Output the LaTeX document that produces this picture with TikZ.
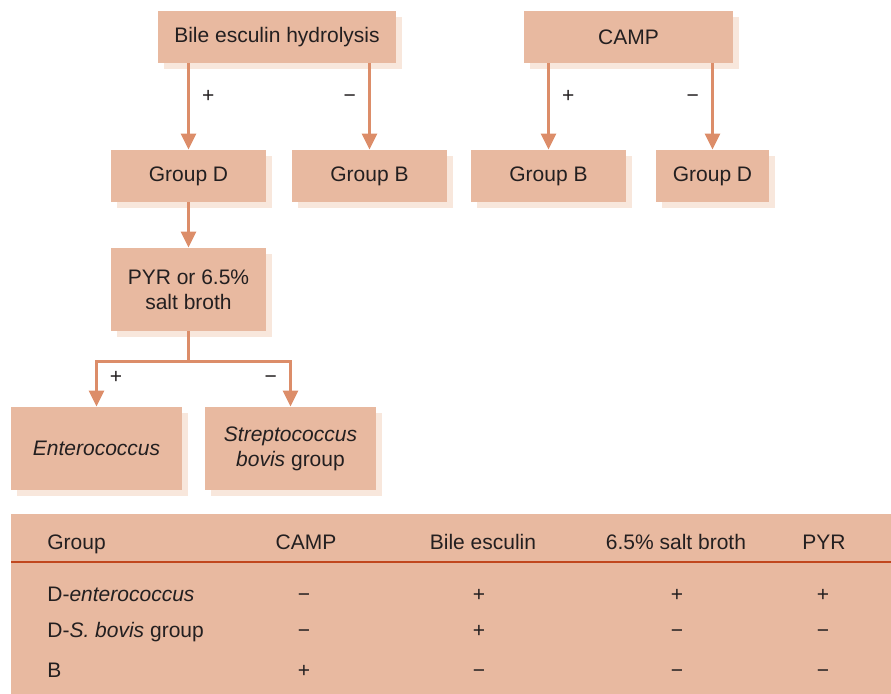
\documentclass[tikz,border=0pt]{standalone}
\usepackage{fontspec}
\setmainfont{Liberation Sans}
\usetikzlibrary{arrows.meta,shadows}
\definecolor{boxfill}{HTML}{E8B9A0}
\definecolor{boxshade}{HTML}{F8E7DC}
\definecolor{arrowc}{HTML}{DC8D69}
\definecolor{rulec}{HTML}{C1471E}
\definecolor{inkc}{HTML}{231F20}
\begin{document}
\begin{tikzpicture}[x=0.5pt,y=-0.5pt,
  font=\fontsize{10.5}{12.6}\selectfont, text=inkc,
  test/.style={fill=boxfill,minimum height=26pt,align=center,
    general shadow={fill=boxshade,shadow xshift=3pt,shadow yshift=-3pt}},
  line/.style={draw=arrowc,line width=1.5pt},
  arr/.style={line,-{Triangle[length=8pt,width=7.5pt]}},
  sign/.style={inner sep=6pt,text height=0.62em,text depth=0pt},
  cell/.style={inner sep=0pt}]
\useasboundingbox (0,0) rectangle (891,694);
% tests
\node[test,minimum width=119pt] (bile) at (277,37) {Bile esculin hydrolysis};
\node[test,minimum width=104.5pt] (camp) at (628.5,37) {CAMP};
\node[test,minimum width=77.5pt] (grpD) at (188.5,176) {Group D};
\node[test,minimum width=77.5pt] (grpB) at (369.5,176) {Group B};
\node[test,minimum width=77.5pt] (campB) at (548.5,176) {Group B};
\node[test,minimum width=56.5pt] (campD) at (712.5,176) {Group D};
\node[test,minimum width=77.5pt,minimum height=41.5pt] (pyr) at (188.5,289.5)
  {PYR or 6.5\%\\salt broth};
\node[test,minimum width=85.5pt,minimum height=41.5pt] (entero) at (96.5,448.5)
  {\itshape Enterococcus};
\node[test,minimum width=85.5pt,minimum height=41.5pt] (strep) at (290.5,448.5)
  {\itshape Streptococcus\\\textit{bovis} group};
\coordinate (fork) at (188.5,362);
% connectors
\draw[arr] (bile.south -| grpD.north) -- (grpD.north)
  node[sign,right,pos=.38] (bileplus) {+};
\draw[arr] (bile.south -| grpB.north) -- (grpB.north)
  node[sign,left,pos=.38] (bileminus) {−};
\draw[arr] (camp.south -| campB.north) -- (campB.north)
  node[sign,right,pos=.38] (campplus) {+};
\draw[arr] (camp.south -| campD.north) -- (campD.north)
  node[sign,left,pos=.38] (campminus) {−};
\draw[arr] (grpD) -- (pyr);
\draw[line] (pyr) -- (fork);
\draw[arr] (fork) -| (entero.north) node[sign,right,pos=.67] (pyrplus) {+};
\draw[arr] (fork) -| (strep.north) node[sign,left,pos=.67] (pyrminus) {−};
% table
\fill[boxfill] (11,514) rectangle (891,694);
\draw[rulec,line width=1pt] (11,562) -- (891,562);
\node[cell,anchor=base west] (hgroup) at (47,550) {Group};
\node[cell,anchor=base] (hcamp) at (306,550) {CAMP};
\node[cell,anchor=base] (hbile) at (483,550) {Bile esculin};
\node[cell,anchor=base] (hsalt) at (676,550) {6.5\% salt broth};
\node[cell,anchor=base] (hpyr) at (824,550) {PYR};
\foreach \y/\grp/\a/\b/\c/\d [count=\i] in
  {602/D-\textit{enterococcus}/−/+/+/+,
   638/D-\textit{S. bovis} group/−/+/−/−,
   678/B/+/−/−/−}{
  \node[cell,anchor=base west] (row\i) at (47,\y) {\grp};
  \node[cell,anchor=base] (row\i-camp) at (304,\y) {\a};
  \node[cell,anchor=base] (row\i-bile) at (479,\y) {\b};
  \node[cell,anchor=base] (row\i-salt) at (677,\y) {\c};
  \node[cell,anchor=base] (row\i-pyr) at (823,\y) {\d};
}
\end{tikzpicture}
\end{document}
